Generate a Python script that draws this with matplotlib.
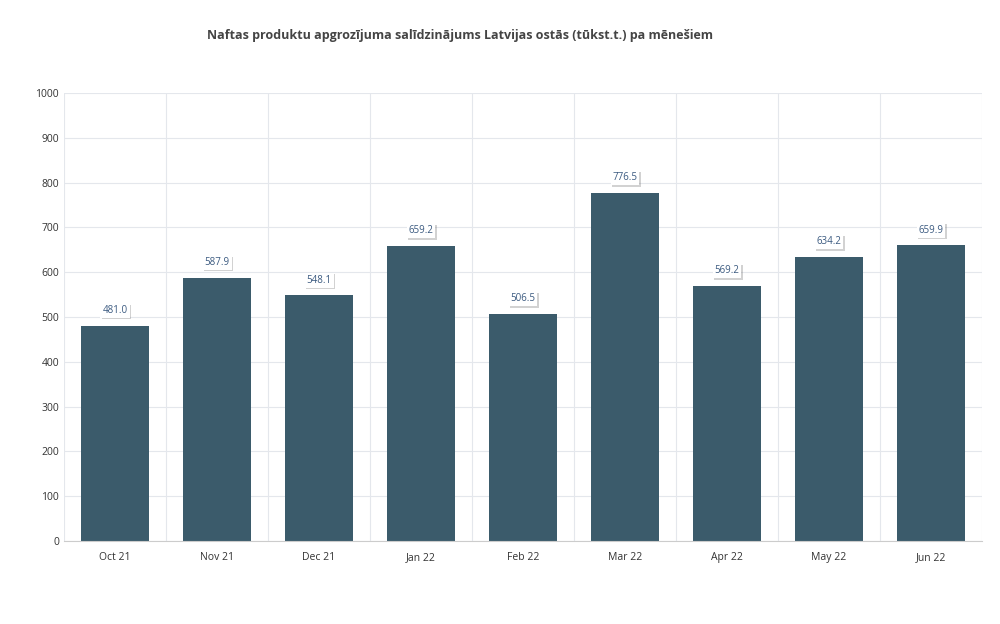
import numpy as np
import matplotlib.pyplot as plt
import matplotlib.patheffects as pe

months = ["Oct 21", "Nov 21", "Dec 21", "Jan 22", "Feb 22", "Mar 22", "Apr 22", "May 22", "Jun 22"]
values = [481.0, 587.9, 548.1, 659.2, 506.5, 776.5, 569.2, 634.2, 659.9]

plt.rcParams["font.family"] = ["Open Sans", "DejaVu Sans"]

fig = plt.figure(figsize=(10, 6.24), dpi=100)
ax = fig.add_axes([0.064, 0.133, 0.918, 0.718])

x = np.arange(len(months))
ax.bar(x, values, width=0.67, color="#3b5b6b", zorder=2)
for xi, v in zip(x, values):
    ax.annotate(f"{v:.1f}", (xi, v), xytext=(0, 7), textcoords="offset points",
                ha="center", va="bottom", fontsize=7, color="#3b5a80", zorder=4,
                bbox=dict(boxstyle="square,pad=0.2", fc="white", ec="none",
                          path_effects=[pe.SimplePatchShadow(offset=(1.2, -1.2), alpha=0.25), pe.Normal()]))

ax.set_xlim(-0.5, len(months) - 0.5)
ax.set_ylim(0, 1000)
ax.set_yticks(range(0, 1001, 100))
ax.set_xticks(x)
ax.set_xticklabels(months)
ax.set_xticks(np.arange(-0.5, len(months)), minor=True)
ax.grid(axis="y", color="#e4e7ec", lw=0.8, zorder=0)
ax.grid(axis="x", which="minor", color="#e4e7ec", lw=0.8, zorder=0)
ax.tick_params(axis="both", which="both", length=0, labelsize=7.5, colors="#333333")
ax.tick_params(axis="x", pad=8)
for s in ax.spines.values():
    s.set_visible(False)
ax.spines["bottom"].set_visible(True)
ax.spines["bottom"].set_color("#cccccc")

fig.text(0.46, 0.938, "Naftas produktu apgrozījuma salīdzinājums Latvijas ostās (tūkst.t.) pa mēnešiem",
         ha="center", fontsize=9, fontweight="bold", color="#444444")

fig.savefig("out.png", dpi=100)
